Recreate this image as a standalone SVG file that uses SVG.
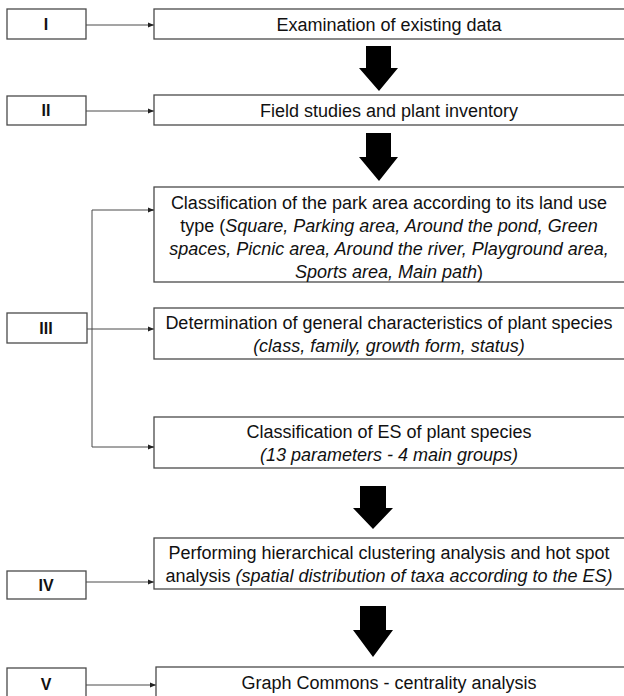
<svg xmlns="http://www.w3.org/2000/svg" width="624" height="696" viewBox="0 0 624 696">
<style>
.box{fill:#fff;stroke:#4a4a4a;stroke-width:1.3}
.t{font-family:"Liberation Sans",Arial,sans-serif;font-size:18px;fill:#111;text-anchor:middle}
.lab{font-family:"Liberation Sans",Arial,sans-serif;font-size:16px;font-weight:bold;fill:#111;text-anchor:middle}
.ln{fill:none;stroke:#4a4a4a;stroke-width:1}
.fat{fill:#000}
</style>
<defs>
<marker id="ah" markerWidth="6" markerHeight="6" refX="6" refY="3" orient="auto" markerUnits="userSpaceOnUse">
<path d="M0,0.5 L6,3 L0,5.5 Z" fill="#222"/>
</marker>
</defs>
<rect width="624" height="696" fill="#fff"/>
<g id="connectors">
<line class="ln" x1="86" y1="25" x2="154" y2="25" marker-end="url(#ah)"/>
<line class="ln" x1="86" y1="111" x2="154" y2="111" marker-end="url(#ah)"/>
<line class="ln" x1="86" y1="329" x2="154" y2="329" marker-end="url(#ah)"/>
<polyline class="ln" points="154,210 92,210 92,447 154,447"/>
<line class="ln" x1="148" y1="210" x2="154" y2="210" marker-end="url(#ah)"/>
<line class="ln" x1="148" y1="447" x2="154" y2="447" marker-end="url(#ah)"/>
<line class="ln" x1="86" y1="582" x2="154" y2="582" marker-end="url(#ah)"/>
<line class="ln" x1="86" y1="685" x2="156" y2="685" marker-end="url(#ah)"/>
<polygon class="fat" points="366,46 391,46 391,68 398,68 379,91 359,68 366,68"/>
<polygon class="fat" points="366,133 391,133 391,157 398,157 379,181 359,157 366,157"/>
<polygon class="fat" points="360,486 386,486 386,508 393,508 373,529 353,508 360,508"/>
<polygon class="fat" points="360,606 386,606 386,630 393,630 373,657 353,630 360,630"/>
</g>
<g id="n-I"><rect class="box" x="7" y="9" width="79" height="30"/><text class="lab" x="46" y="30">I</text></g>
<g id="s-I"><rect class="box" x="154" y="9" width="472" height="30"/><text class="t" x="389" y="31">Examination of existing data</text></g>
<g id="n-II"><rect class="box" x="7" y="96" width="79" height="29"/><text class="lab" x="46" y="116">II</text></g>
<g id="s-II"><rect class="box" x="154" y="95" width="472" height="30"/><text class="t" x="389" y="117">Field studies and plant inventory</text></g>
<g id="s-IIIa"><rect class="box" x="154" y="187" width="472" height="95"/>
<text class="t" x="389" y="209">Classification of the park area according to its land use</text>
<text class="t" x="389" y="232">type (<tspan font-style="italic">Square, Parking area, Around the pond, Green</tspan></text>
<text class="t" x="389" y="255"><tspan font-style="italic">spaces, Picnic area, Around the river, Playground area,</tspan></text>
<text class="t" x="389" y="278"><tspan font-style="italic">Sports area, Main path</tspan>)</text>
</g>
<g id="n-III"><rect class="box" x="7" y="313" width="80" height="30"/><text class="lab" x="46" y="334">III</text></g>
<g id="s-IIIb"><rect class="box" x="154" y="308" width="472" height="51"/>
<text class="t" x="389" y="329">Determination of general characteristics of plant species</text>
<text class="t" x="389" y="352" font-style="italic">(class, family, growth form, status)</text>
</g>
<g id="s-IIIc"><rect class="box" x="154" y="417" width="472" height="51"/>
<text class="t" x="389" y="438">Classification of ES of plant species</text>
<text class="t" x="389" y="461" font-style="italic">(13 parameters - 4 main groups)</text>
</g>
<g id="n-IV"><rect class="box" x="7" y="571" width="79" height="28"/><text class="lab" x="46" y="591">IV</text></g>
<g id="s-IV"><rect class="box" x="154" y="538" width="472" height="51"/>
<text class="t" x="389" y="559">Performing hierarchical clustering analysis and hot spot</text>
<text class="t" x="389" y="582">analysis <tspan font-style="italic">(spatial distribution of taxa according to the ES)</tspan></text>
</g>
<g id="n-V"><rect class="box" x="7" y="668" width="79" height="30"/><text class="lab" x="46" y="690">V</text></g>
<g id="s-V"><rect class="box" x="156" y="667" width="470" height="30"/><text class="t" x="389" y="689">Graph Commons - centrality analysis</text></g>
</svg>
